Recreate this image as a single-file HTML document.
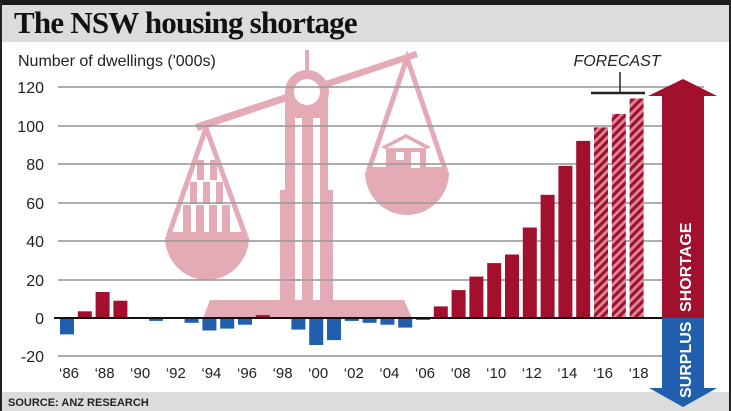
<!DOCTYPE html>
<html><head><meta charset="utf-8"><style>
body{margin:0;background:#fff}
svg{display:block}
</style></head><body>
<svg width="731" height="411" viewBox="0 0 731 411" xmlns="http://www.w3.org/2000/svg">
<defs>
<pattern id="h" width="6" height="6" patternUnits="userSpaceOnUse" patternTransform="rotate(45)">
<rect width="6" height="6" fill="#d98b9b"/><rect width="3.2" height="6" fill="#a3102e"/>
</pattern>
</defs>
<rect width="731" height="411" fill="#fff"/>
<rect x="0" y="0" width="731" height="5" fill="#1a1a1a"/>
<rect x="0" y="5" width="731" height="37" fill="#dcdcdc"/>
<rect x="0" y="0" width="2" height="411" fill="#222"/>
<rect x="729" y="0" width="2" height="411" fill="#222"/>
<text x="14" y="33" font-family="Liberation Serif, serif" font-weight="bold" font-size="31" fill="#111" letter-spacing="-0.8">The NSW housing shortage</text>
<rect x="2" y="392" width="727" height="19" fill="#dcdcdc"/>
<text x="8" y="406" font-family="Liberation Sans, sans-serif" font-weight="bold" font-size="11" fill="#222">SOURCE: ANZ RESEARCH</text>
<text x="18" y="66" font-family="Liberation Sans, sans-serif" font-size="16" fill="#222">Number of dwellings ('000s)</text>

<g fill="#e4aab5">
<polygon points="195,124 416,51 418,57 198,131"/>
<rect x="305" y="50" width="4" height="20"/>
<rect x="285" y="90" width="43" height="210"/>
<rect x="280" y="190" width="53" height="110"/>
<circle cx="307" cy="92" r="22"/>
<polygon points="210,300 404,300 412,318 203,318"/>
<path d="M165,237 A42,43 0 0 0 249,237 Z"/>
<path d="M365,172 A42,43 0 0 0 449,172 Z"/>
</g>
<circle cx="307" cy="92" r="13" fill="#fff"/>
<rect x="295" y="118" width="7" height="182" fill="#fff"/>
<rect x="313" y="118" width="7" height="182" fill="#fff"/>
<g stroke="#e4aab5" stroke-width="5" fill="none">
<polyline points="168,237 206,128 246,237"/>
<polyline points="368,172 407,58 446,172"/>
</g>
<g fill="#e4aab5">
<rect x="168" y="232" width="78" height="6"/>
<rect x="368" y="167" width="78" height="6"/>
<rect x="183" y="205" width="8" height="27"/><rect x="196" y="205" width="8" height="27"/><rect x="209" y="205" width="8" height="27"/><rect x="222" y="205" width="8" height="27"/>
<rect x="190" y="182" width="7" height="22"/><rect x="203" y="182" width="7" height="22"/><rect x="216" y="182" width="7" height="22"/>
<rect x="197" y="160" width="7" height="20"/><rect x="210" y="160" width="7" height="20"/>
<polygon points="381,147 406,134 431,147 427,149 406,138 385,149"/>
<rect x="386" y="148" width="40" height="20"/>
</g>
<rect x="396" y="152" width="8" height="8" fill="#fff"/>
<rect x="411" y="152" width="9" height="16" fill="#fff"/>

<g stroke="#9a9a9a" stroke-width="2" opacity="0.8">
<line x1="58" y1="87" x2="704" y2="87"/>
<line x1="58" y1="126" x2="704" y2="126"/>
<line x1="58" y1="164" x2="704" y2="164"/>
<line x1="58" y1="203" x2="704" y2="203"/>
<line x1="58" y1="241" x2="704" y2="241"/>
<line x1="58" y1="280" x2="704" y2="280"/>
<line x1="58" y1="356" x2="704" y2="356"/>
</g>
<g font-family="Liberation Sans, sans-serif" font-size="16" fill="#222" text-anchor="end">
<text x="44" y="93">120</text><text x="44" y="132">100</text><text x="44" y="170">80</text>
<text x="44" y="209">60</text><text x="44" y="247">40</text><text x="44" y="286">20</text>
<text x="44" y="324">0</text><text x="44" y="362">-20</text>
</g>

<g fill="#1f5fae">
<rect x="60" y="318" width="14" height="16.4"/>
<rect x="149" y="318" width="14" height="2.9"/>
<rect x="184.6" y="318" width="14" height="4.8"/>
<rect x="202.4" y="318" width="14" height="12.5"/>
<rect x="220.2" y="318" width="14" height="10.6"/>
<rect x="238" y="318" width="14" height="6.7"/>
<rect x="291.4" y="318" width="14" height="11.6"/>
<rect x="309.2" y="318" width="14" height="27"/>
<rect x="327" y="318" width="14" height="22.1"/>
<rect x="344.8" y="318" width="14" height="2.9"/>
<rect x="362.6" y="318" width="14" height="4.8"/>
<rect x="380.4" y="318" width="14" height="6.7"/>
<rect x="398.2" y="318" width="14" height="9.6"/>
<rect x="416" y="318" width="14" height="1.9"/>
</g>
<g fill="#a3102e">
<rect x="77.8" y="311.3" width="14" height="6.7"/>
<rect x="95.6" y="292" width="14" height="26"/>
<rect x="113.4" y="300.7" width="14" height="17.3"/>
<rect x="255.8" y="315.1" width="14" height="2.9"/>
<rect x="433.8" y="306.4" width="14" height="11.6"/>
<rect x="451.6" y="290.1" width="14" height="27.9"/>
<rect x="469.4" y="276.6" width="14" height="41.4"/>
<rect x="487.2" y="263.1" width="14" height="54.9"/>
<rect x="505" y="254.5" width="14" height="63.5"/>
<rect x="522.8" y="227.5" width="14" height="90.5"/>
<rect x="540.6" y="194.8" width="14" height="123.2"/>
<rect x="558.4" y="165.9" width="14" height="152.1"/>
<rect x="576.2" y="140.9" width="14" height="177.1"/>
</g>
<g fill="url(#h)">
<rect x="594" y="127.4" width="14" height="190.6"/>
<rect x="611.8" y="113.9" width="14" height="204.1"/>
<rect x="629.6" y="98.5" width="14" height="219.5"/>
</g>
<g font-family="Liberation Sans, sans-serif" font-size="15" fill="#222" text-anchor="middle">
<text x="69" y="378">‘86</text><text x="104.6" y="378">‘88</text><text x="140.2" y="378">‘90</text>
<text x="175.8" y="378">‘92</text><text x="211.4" y="378">‘94</text><text x="247" y="378">‘96</text>
<text x="282.6" y="378">‘98</text><text x="318.2" y="378">‘00</text><text x="353.8" y="378">‘02</text>
<text x="389.4" y="378">‘04</text><text x="425" y="378">‘06</text><text x="460.6" y="378">‘08</text>
<text x="496.2" y="378">‘10</text><text x="531.8" y="378">‘12</text><text x="567.4" y="378">‘14</text>
<text x="603" y="378">‘16</text><text x="638.6" y="378">‘18</text>
</g>
<line x1="54" y1="318" x2="662" y2="318" stroke="#111" stroke-width="2"/>

<text x="617" y="66" font-family="Liberation Sans, sans-serif" font-style="italic" font-size="16" fill="#222" text-anchor="middle">FORECAST</text>
<line x1="620" y1="72" x2="620" y2="93" stroke="#222" stroke-width="1.5"/>
<line x1="591" y1="93" x2="645" y2="93" stroke="#222" stroke-width="2.5"/>

<polygon points="683,79 717,96 704,96 704,318 662,318 662,96 648,96" fill="#a3102e"/>
<polygon points="662,318 704,318 704,388 717,388 683,407 649,388 662,388" fill="#1f5fae"/>
<text transform="translate(691,312) rotate(-90)" font-family="Liberation Sans, sans-serif" font-weight="bold" font-size="16" fill="#fff">SHORTAGE</text>
<text transform="translate(691,398) rotate(-90)" font-family="Liberation Sans, sans-serif" font-weight="bold" font-size="16" fill="#fff">SURPLUS</text>
</svg>
</body></html>
